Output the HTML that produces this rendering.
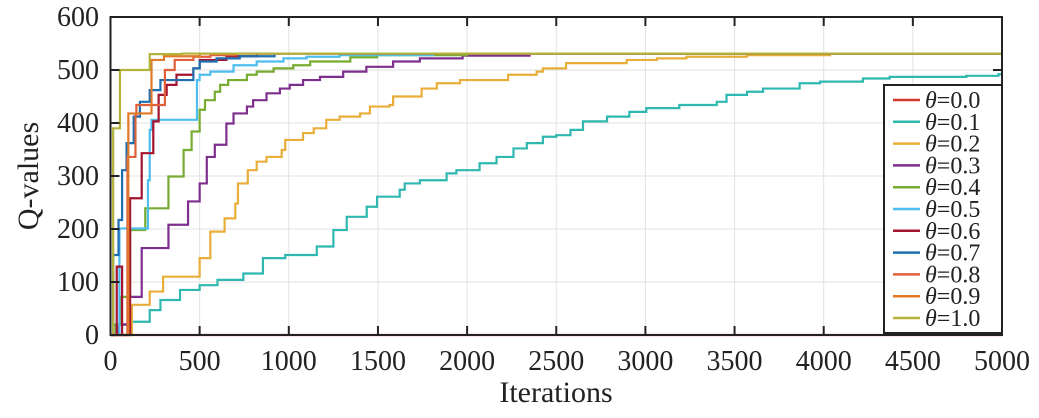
<!DOCTYPE html>
<html><head><meta charset="utf-8"><style>
body{margin:0;background:#fff;width:1039px;height:413px;overflow:hidden}
text{font-family:"Liberation Serif",serif;fill:#222}
</style></head><body>
<svg id="c" width="1039" height="413" xmlns="http://www.w3.org/2000/svg">
<g id="grid"></g>
<g id="lines"></g>
<g id="axes"></g>
<text x="0" y="0" font-size="30" text-anchor="middle" transform="translate(38,176) rotate(-90)">Q-values</text>
<text x="556" y="402" font-size="30" text-anchor="middle">Iterations</text>
<g id="legend"></g>
</svg>
<script>
const xTicks=[0,500,1000,1500,2000,2500,3000,3500,4000,4500,5000];
const yTicks=[0,100,200,300,400,500,600];
const labels=["0.0","0.1","0.2","0.3","0.4","0.5","0.6","0.7","0.8","0.9","1.0"];
const colors=["#d6392f","#2fb8b0","#e9ae3a","#7e2f8e","#77ac30","#4dbeee","#a2142f","#1f6fb0","#e0603a","#e07a28","#b3b33a"];
const s00=[[0,0],[5000,0]];
const s01=[[0,0],[15,19],[120,25],[220,47],[280,66],[390,85],[500,94],[600,104],[745,116],[855,145],[980,151],[1157,167],[1250,198],[1325,223],[1437,242],[1495,261],[1622,274],[1650,286],[1735,292],[1885,305],[1940,311],[2070,324],[2165,336],[2260,352],[2335,362],[2425,374],[2500,377],[2580,387],[2650,403],[2785,412],[2910,421],[3005,428],[3190,434],[3400,440],[3455,453],[3570,459],[3660,465],[3865,475],[3980,478],[4220,484],[4370,487],[4800,489],[4980,492],[5000,492]];
const s02=[[0,0],[120,57],[220,82],[295,110],[500,145],[560,195],[640,220],[700,248],[715,286],[770,311],[820,327],[875,336],[960,349],[980,368],[1080,381],[1140,390],[1210,406],[1285,412],[1400,418],[1455,431],[1565,434],[1585,450],[1745,465],[1830,475],[1960,481],[2230,491],[2390,497],[2425,503],[2555,513],[2895,519],[3065,522],[3230,525],[3570,528],[4035,531],[5000,531]];
const s03=[[0,0],[40,20],[100,72],[175,164],[325,208],[435,252],[500,286],[540,336],[585,359],[650,399],[690,418],[765,431],[800,443],[875,456],[950,465],[1005,472],[1080,481],[1175,487],[1305,497],[1435,506],[1585,516],[1735,522],[1975,527],[2350,531],[5000,531]];
const s04=[[0,0],[30,20],[53,72],[110,198],[195,239],[325,299],[410,349],[455,384],[500,425],[530,443],[585,459],[615,472],[660,481],[765,491],[820,497],[915,503],[1025,509],[1120,516],[1345,524],[1495,528],[2000,531],[5000,531]];
const s05=[[0,0],[50,201],[210,292],[220,387],[230,406],[485,481],[500,491],[560,497],[690,509],[820,516],[970,522],[1100,525],[1285,528],[1810,531],[5000,531]];
const s06=[[0,0],[35,129],[65,0],[110,258],[175,343],[240,403],[270,453],[315,472],[370,491],[465,503],[500,519],[650,526],[820,531],[5000,531]];
const s07=[[0,0],[15,151],[45,217],[65,311],[90,362],[130,412],[165,440],[220,462],[280,481],[465,503],[500,516],[595,522],[725,526],[920,531],[5000,531]];
const s08=[[0,0],[95,336],[140,415],[145,434],[305,500],[360,519],[465,525],[560,528],[700,531],[5000,531]];
const s09=[[0,0],[100,418],[230,519],[300,526],[500,531],[5000,531]];
const s10=[[0,0],[15,390],[53,500],[220,530],[400,531],[5000,531]];
const series=[s00,s01,s02,s03,s04,s05,s06,s07,s08,s09,s10];
const NS="http://www.w3.org/2000/svg";
const L=110.5,R=1002,T=17,B=335;
const xs=v=>L+(R-L)*v/5000, ys=v=>B-(B-T)*v/600;
function mk(tag,attrs,parent){const e=document.createElementNS(NS,tag);for(const k in attrs)e.setAttribute(k,attrs[k]);parent.appendChild(e);return e;}
const grid=document.getElementById('grid'),axes=document.getElementById('axes'),lines=document.getElementById('lines'),leg=document.getElementById('legend');
xTicks.forEach(t=>{const x=xs(t);
 const g=mk('line',{x1:x,x2:x,y1:T,y2:B,stroke:'#e2e2e2','stroke-width':1},grid);
 
 const a=mk('line',{x1:x,x2:x,y1:B,y2:B-9,stroke:'#222','stroke-width':2},axes);
 
 const b=mk('line',{x1:x,x2:x,y1:T,y2:T+9,stroke:'#222','stroke-width':2},axes);
 
 const tx=mk('text',{x:x,y:370,'font-size':28,'text-anchor':'middle'},axes);tx.textContent=t;
 });
yTicks.forEach(t=>{const y=ys(t);
 const g=mk('line',{x1:L,x2:R,y1:y,y2:y,stroke:'#e2e2e2','stroke-width':1},grid);
 
 const a=mk('line',{x1:L,x2:L+9,y1:y,y2:y,stroke:'#222','stroke-width':2},axes);
 
 const b=mk('line',{x1:R,x2:R-9,y1:y,y2:y,stroke:'#222','stroke-width':2},axes);
 
 const tx=mk('text',{x:99,y:y+9,'font-size':28,'text-anchor':'end'},axes);tx.textContent=t;
 });
const box=mk('rect',{x:L,y:T,width:R-L,height:B-T,fill:'none',stroke:'#222','stroke-width':2},axes);

const order=[1,2,3,4,5,6,7,8,9,10,0];
order.forEach(i=>{const d=series[i];let p='M'+xs(d[0][0])+','+ys(d[0][1]);
 for(let k=1;k<d.length;k++){p+=' H'+xs(d[k][0])+' V'+ys(d[k][1]);}
 const e=mk('path',{d:p,fill:'none',stroke:colors[i],'stroke-width':2.2},lines);
 });
const lb=mk('rect',{x:884,y:85,width:118,height:248,fill:'#fff',stroke:'#222','stroke-width':2},leg);

labels.forEach((l,i)=>{const y=100+i*21.8;
 const ln=mk('line',{x1:893,x2:920,y1:y,y2:y,stroke:colors[i],'stroke-width':2.5},leg);
 
 const tx=mk('text',{x:925,y:y+8,'font-size':24},leg);
 tx.innerHTML='<tspan font-style="italic">θ</tspan>='+l;
 });
</script>
</body></html>
